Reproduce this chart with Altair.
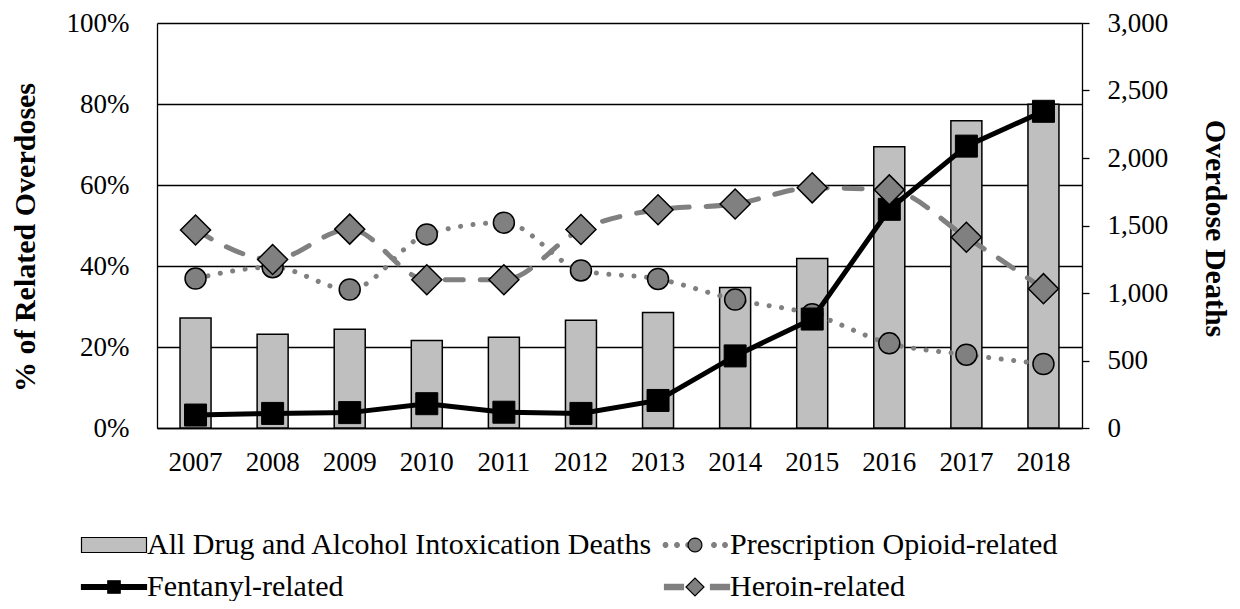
import math
import altair as alt
import pandas as pd

# ---------------- data ----------------
years = ["2007", "2008", "2009", "2010", "2011", "2012",
         "2013", "2014", "2015", "2016", "2017", "2018"]
all_deaths = [815, 695, 731, 648, 672, 798, 855, 1040, 1256, 2084, 2276, 2399]
rx_pct = [36.9, 39.7, 34.2, 47.8, 50.7, 38.9, 36.8, 31.7, 28.1, 20.9, 18.1, 15.8]
fent_pct = [3.2, 3.6, 3.8, 6.0, 3.9, 3.6, 6.8, 17.8, 26.9, 54.0, 69.6, 78.2]
heroin_pct = [48.9, 41.6, 49.1, 36.6, 36.6, 49.0, 53.9, 55.3, 59.3, 58.8, 47.1, 34.4]

legend_names = ["All Drug and Alcohol Intoxication Deaths",
                "Prescription Opioid-related",
                "Fentanyl-related",
                "Heroin-related"]
left_ticks = [0, 0.2, 0.4, 0.6, 0.8, 1.0]
right_ticks = [0, 500, 1000, 1500, 2000, 2500, 3000]

FONT = "Liberation Serif"
FS = 27
LFS = 30

bars_df = pd.DataFrame({"year": years, "deaths": all_deaths})
lines_df = pd.DataFrame({
    "year": years * 3,
    "series": ["rx"] * 12 + ["fent"] * 12 + ["heroin"] * 12,
    "pct": [v / 100 for v in rx_pct + fent_pct + heroin_pct],
})

# ---------------- legend symbol paths (given in px, converted to symbol units) ----------------
SYM_SIZE = 900
U = math.sqrt(SYM_SIZE) / 2.0  # px per path unit

def f(v):
    return f"{v / U:.3f}"

def poly(r, n=20, cx=0.0):
    pts = [(cx + r * math.cos(2 * math.pi * k / n), r * math.sin(2 * math.pi * k / n)) for k in range(n)]
    return "M" + "L".join(f"{f(x)},{f(y)}" for x, y in pts) + "Z"

def rect(x0, x1, h):
    return f"M{f(x0)},{f(-h)}H{f(x1)}V{f(h)}H{f(x0)}Z"

HALF = 32.5
EXT = f"M{f(-HALF)},0L{f(-HALF)},0M{f(HALF)},0L{f(HALF)},0"
p_bar = rect(-HALF, HALF, 7.5)
p_rx_dots = "".join(poly(2.4, 10, c) for c in [-31.5, -20.0, -8.8, 17.0, 28.0])
p_fent_line = rect(-HALF, HALF, 2.5)
p_her_dash = rect(-HALF, -13.5, 2.6) + rect(13.5, HALF, 2.6)
p_none = EXT
p_circle = poly(6.9, 24) + EXT
p_square = rect(-6.2, 6.2, 6.2) + EXT
p_diamond = f"M{f(-9)},0L0,{f(-9)}L{f(9)},0L0,{f(9)}Z" + EXT

legend_df = pd.DataFrame({"series": legend_names,
                          "series2": [n + "#" for n in legend_names]})

LEG_X = -76
LEG_Y = 506

def legend_props(**extra):
    return dict(
        title=None, orient="none", legendX=LEG_X, legendY=LEG_Y, columns=2,
        direction="horizontal",
        symbolSize=SYM_SIZE, symbolStrokeWidth=1.2, symbolOffset=17,
        labelFont=FONT, labelFontSize=LFS, labelLimit=2000, labelOffset=17,
        rowPadding=11, columnPadding=7, padding=0, **extra)

x_enc = alt.X("year:N", sort=years,
              scale=alt.Scale(paddingInner=0, paddingOuter=0),
              axis=alt.Axis(title=None, labelAngle=0, labelFont=FONT, labelFontSize=FS,
                            labelColor="black", ticks=False, tickSize=0, labelPadding=34,
                            labelBaseline="middle",
                            domainColor="black", domainWidth=1.3, grid=False))

# ---------------- bars (right axis) ----------------
bars = alt.Chart(bars_df).mark_bar(size=31, fill="#BFBFBF", stroke="black", strokeWidth=1.5).encode(
    x=x_enc,
    y=alt.Y("deaths:Q", scale=alt.Scale(domain=[0, 3000]),
            axis=alt.Axis(orient="right", values=right_ticks, format=",d", grid=False,
                          title="Overdose Deaths", titleFont=FONT, titleFontSize=LFS,
                          titleFontWeight="bold", titleColor="black", titleAngle=90,
                          titleX=132, titleY=205, titleAlign="center", titleBaseline="middle",
                          labelFont=FONT, labelFontSize=FS, labelColor="black",
                          labelPadding=18, tickSize=7, tickColor="black", tickWidth=1.3,
                          domainColor="black", domainWidth=1.3)),
)

y_left = alt.Y("pct:Q", scale=alt.Scale(domain=[0, 1]),
               axis=alt.Axis(orient="left", values=left_ticks, format=".0%", grid=True,
                             gridColor="black", gridWidth=1.3, gridOpacity=1,
                             title="% of Related Overdoses", titleFont=FONT, titleFontSize=LFS,
                             titleFontWeight="bold", titleColor="black", titleAngle=270,
                             titleX=-132, titleY=214, titleAlign="center", titleBaseline="middle",
                             labelFont=FONT, labelFontSize=FS, labelColor="black",
                             labelPadding=28, ticks=False, tickSize=0,
                             domainColor="black", domainWidth=1.3))

lbase = alt.Chart(lines_df)
rx_line = lbase.transform_filter("datum.series == 'rx'").mark_line(
    color="#808080", strokeWidth=5, strokeDash=[0.1, 12.5], strokeCap="round",
    interpolate="monotone").encode(x=x_enc, y=y_left)
rx_pts = lbase.transform_filter("datum.series == 'rx'").mark_point(
    shape="circle", size=441, filled=True, fill="#808080", stroke="black",
    strokeWidth=1.5, opacity=1).encode(x=x_enc, y=y_left)
fent_line = lbase.transform_filter("datum.series == 'fent'").mark_line(
    color="black", strokeWidth=5).encode(x=x_enc, y=y_left)
fent_pts = lbase.transform_filter("datum.series == 'fent'").mark_point(
    shape="square", size=484, filled=True, fill="black", stroke="black",
    strokeWidth=1, opacity=1).encode(x=x_enc, y=y_left)
her_line = lbase.transform_filter("datum.series == 'heroin'").mark_line(
    color="#808080", strokeWidth=5, strokeDash=[18, 17], strokeCap="round",
    interpolate="monotone").encode(x=x_enc, y=y_left)
her_pts = lbase.transform_filter("datum.series == 'heroin'").mark_point(
    shape="diamond", size=900, filled=True, fill="#808080", stroke="black",
    strokeWidth=1.5, opacity=1).encode(x=x_enc, y=y_left)

lines = alt.layer(rx_line, rx_pts, fent_line, fent_pts, her_line, her_pts)

# ---------------- legends (empty-data layers, explicit domains) ----------------
lp1 = legend_props(labelColor="black")
leg1 = alt.Chart(legend_df).transform_filter("false").mark_point(filled=True, opacity=1).encode(
    shape=alt.Shape("series:N", scale=alt.Scale(domain=legend_names,
                    range=[p_bar, p_rx_dots, p_fent_line, p_her_dash]),
                    legend=alt.Legend(**lp1)),
    fill=alt.Fill("series:N", scale=alt.Scale(domain=legend_names,
                  range=["#BFBFBF", "#808080", "black", "#808080"]),
                  legend=alt.Legend(**lp1)),
    stroke=alt.Stroke("series:N", scale=alt.Scale(domain=legend_names,
                      range=["black", "#808080", "black", "#808080"]),
                      legend=alt.Legend(**lp1)),
)
names2 = [n + "#" for n in legend_names]
lp2 = legend_props(labelColor="transparent", labelExpr="replace(datum.label, '#', '')")
leg2 = alt.Chart(legend_df).transform_filter("false").mark_point(filled=True, opacity=1).encode(
    shape=alt.Shape("series2:N", scale=alt.Scale(domain=names2,
                    range=[p_none, p_circle, p_square, p_diamond]),
                    legend=alt.Legend(**lp2)),
    fill=alt.Fill("series2:N", scale=alt.Scale(domain=names2,
                  range=["transparent", "#808080", "black", "#808080"]),
                  legend=alt.Legend(**lp2)),
    stroke=alt.Stroke("series2:N", scale=alt.Scale(domain=names2,
                      range=["transparent", "black", "black", "black"]),
                      legend=alt.Legend(**lp2)),
)

chart = alt.layer(bars, lines, leg1, leg2).resolve_scale(
    y="independent", shape="independent", fill="independent", stroke="independent"
).resolve_legend(
    shape="independent", fill="independent", stroke="independent"
).properties(
    width=925, height=405,
    autosize=alt.AutoSizeParams(type="none"),
    padding={"left": 149, "top": 15, "right": 150, "bottom": 173},
).configure_view(stroke=None).configure(background="white")

chart.save("out.html", embed_options={"renderer": "svg", "actions": False})
